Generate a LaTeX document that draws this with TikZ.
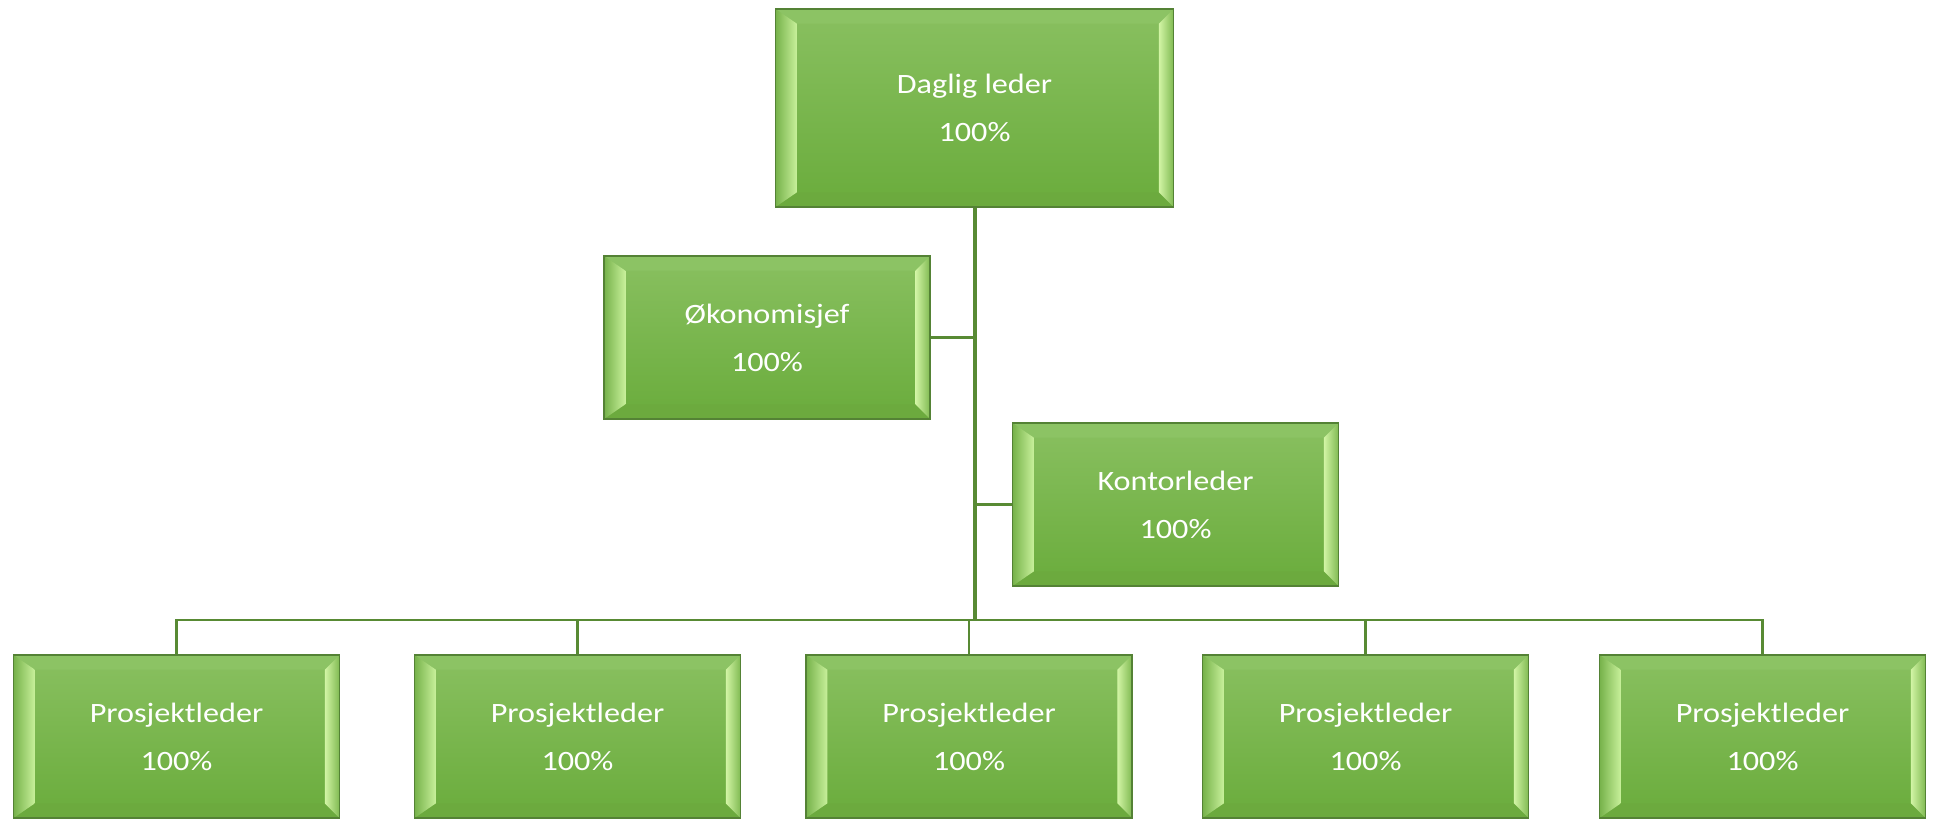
\documentclass[tikz,border=0pt]{standalone}
\usepackage{fontspec}
\setmainfont{Carlito}[FakeStretch=1.15]
\definecolor{bord}{RGB}{84,130,53}
\definecolor{conn}{RGB}{88,138,52}
\definecolor{facetop}{RGB}{137,192,96}
\definecolor{facebot}{RGB}{106,172,60}
\definecolor{bevLout}{RGB}{118,178,74}
\definecolor{bevLin}{RGB}{200,240,155}
\definecolor{bevRout}{RGB}{128,186,82}
\definecolor{bevRin}{RGB}{210,245,165}
\definecolor{bevT}{RGB}{140,195,100}
\definecolor{bevB}{RGB}{108,170,62}
\tikzset{
  bevel/.style={path picture={
    \path (path picture bounding box.north west) coordinate (A)
          (path picture bounding box.north east) coordinate (B)
          (path picture bounding box.south east) coordinate (C)
          (path picture bounding box.south west) coordinate (D);
    \path ([shift={(16pt,-11pt)}]A) coordinate (a)
          ([shift={(-11pt,-11pt)}]B) coordinate (b)
          ([shift={(-11pt,11pt)}]C) coordinate (c)
          ([shift={(16pt,11pt)}]D) coordinate (d);
    \fill[bevT] (A)--(B)--(b)--(a)--cycle;
    \fill[bevB] (D)--(C)--(c)--(d)--cycle;
    \shade[left color=bevLout, right color=bevLin] (A)--(a)--(d)--(D)--cycle;
    \shade[left color=bevRin, right color=bevRout] (B)--(b)--(c)--(C)--cycle;
  }},
  orgbox/.style={rectangle, draw=bord, line width=1.3pt, inner sep=0pt,
    top color=facetop, bottom color=facebot, bevel,
    align=center, text=white, font=\fontsize{21}{36}\selectfont,
    minimum width=244.5pt, minimum height=122.25pt},
  bigbox/.style={orgbox, minimum width=298.5pt, minimum height=148.5pt},
  trunk/.style={draw=conn, line width=3pt},
  busline/.style={draw=conn, line width=2.2pt},
  drop/.style={draw=conn, line width=1.6pt},
}
\begin{document}
\begin{tikzpicture}[x=0.75pt, y=-0.75pt]
\useasboundingbox (0,0) rectangle (1933,818);
% nodes
\node[bigbox] (top) at (974.5,108) {Daglig leder\\100\%};
\node[orgbox] (oek) at (767,337.5) {Økonomisjef\\100\%};
\node[orgbox] (kont) at (1175.5,504.5) {Kontorleder\\100\%};
\node[orgbox] (p1) at (176.5,736.5) {Prosjektleder\\100\%};
\node[orgbox] (p2) at (577.5,736.5) {Prosjektleder\\100\%};
\node[orgbox] (p3) at (969,736.5) {Prosjektleder\\100\%};
\node[orgbox] (p4) at (1365.5,736.5) {Prosjektleder\\100\%};
\node[orgbox] (p5) at (1762.5,736.5) {Prosjektleder\\100\%};
\coordinate (bus) at (975,620);
% connectors
\draw[busline] (oek.east) -- (oek.east -| bus);
\draw[busline] (kont.west) -- (kont.west -| bus);
\draw[drop] (p1.north) |- (bus);
\draw[drop] (p2.north) |- (bus);
\draw[drop] (p3.north) |- (bus);
\draw[drop] (p4.north) |- (bus);
\draw[drop] (p5.north) |- (bus);
\draw[busline] (p1.north |- bus) -- (p5.north |- bus);
\draw[trunk] (top.south -| bus) -- (bus);
\end{tikzpicture}
\end{document}
